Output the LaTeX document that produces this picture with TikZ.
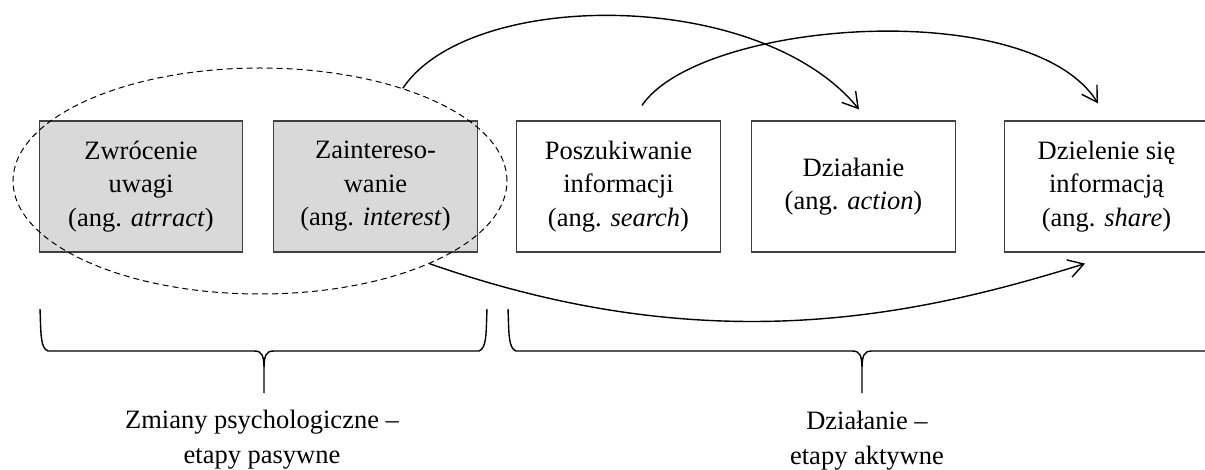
\documentclass[tikz,border=0pt]{standalone}
\usepackage{fontspec}
\setmainfont{Liberation Serif}
\usetikzlibrary{shapes.geometric,arrows.meta}
\definecolor{boxgray}{HTML}{D9D9D9}
\definecolor{edgegray}{HTML}{404040}

\begin{document}
\begin{tikzpicture}[x=0.5pt,y=-0.5pt,
  stage/.style={draw=edgegray, line width=0.6pt, minimum width=101.75pt,
    minimum height=65.5pt, inner sep=0pt, align=center,
    font=\fontsize{13.25}{16.75}\selectfont},
  passive/.style={stage, fill=boxgray},
  flow/.style={line width=0.7pt, -{Straight Barb[length=7.5pt,width=9pt]}},
  bracket/.style={line width=0.7pt},
  caption/.style={align=center, font=\fontsize{13.25}{17.5}\selectfont}
]
\useasboundingbox (0,0) rectangle (1205,470);

% the five stages
\node[passive] (b1) at (141,186.5) {Zwrócenie\\uwagi\\(ang. \textit{atrract})};
\node[passive] (b2) at (375.5,186.5) {Zaintereso-\\wanie\\(ang. \textit{interest})};
\node[stage] (b3) at (618.5,186.5) {Poszukiwanie\\informacji\\(ang. \textit{search})};
\node[stage] (b4) at (853.5,186.5) {Działanie\\(ang. \textit{action})};
\node[stage] (b5) at (1106.5,186.5) {Dzielenie się\\informacją\\(ang. \textit{share})};

% passive stages grouped by a dashed ellipse
\node[ellipse, draw, line width=0.5pt, dash pattern=on 3pt off 2pt,
  minimum width=247pt, minimum height=113pt, inner sep=0pt] (ell) at (260,181) {};

% transitions between stages
\draw[flow] (ell.33) .. controls (470,-12) and (760,-12) .. ([shift={(5.5,-11)}]b4.north);
\draw[flow] ([shift={(23.5,-15)}]b3.north) .. controls (700,20) and (1030,-5) .. ([shift={(-8.5,-17)}]b5.north);
\draw[flow] (ell.-26) .. controls (704,360) and (909,318.7) .. ([shift={(-21.5,11)}]b5.south);

% braces under the two groups
\draw[bracket] (40,309) .. controls (41,332) and (40,348) .. (48,351) -- (254,351)
  .. controls (262,351) and (264,355) .. (264,370) -- (264,393) -- (264,370)
  .. controls (264,355) and (266,351) .. (274,351) -- (479,351)
  .. controls (487,348) and (486,332) .. (487,309);
\draw[bracket] (508,309) .. controls (509,332) and (508,348) .. (516,351) -- (852,351)
  .. controls (860,351) and (862,355) .. (862,370) -- (862,393) -- (862,370)
  .. controls (862,355) and (864,351) .. (872,351) -- (1216,351);

% group labels
\node[caption] (lp) at (262,440) {Zmiany psychologiczne –\\etapy pasywne};
\node[caption] (la) at (867,441) {Działanie –\\etapy aktywne};
\end{tikzpicture}
\end{document}
